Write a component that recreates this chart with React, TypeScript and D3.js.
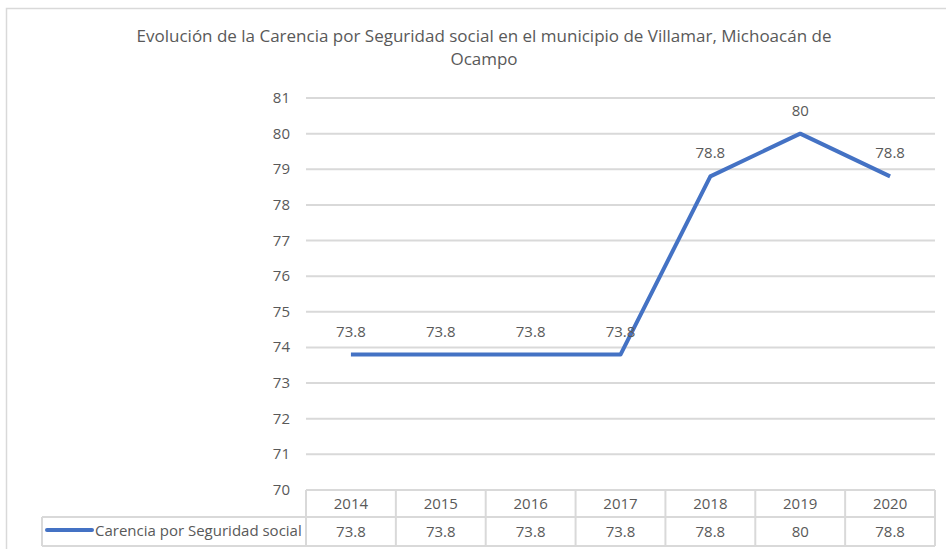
import React from "react";
import * as d3 from "d3";

const title1 = "Evolución de la Carencia por Seguridad social en el municipio de Villamar, Michoacán de";
const title2 = "Ocampo";
const years = ["2014", "2015", "2016", "2017", "2018", "2019", "2020"];
const values = [73.8, 73.8, 73.8, 73.8, 78.8, 80, 78.8];
const yTicks = [70, 71, 72, 73, 74, 75, 76, 77, 78, 79, 80, 81];
const seriesName = "Carencia por Seguridad social";

const FONT = "'Open Sans', sans-serif";
const TXT = "#595959";
const GRID = "#d9d9d9";
const BLUE = "#4472C4";

export default function App() {
  const W = 946, H = 549;
  const x0 = 306, x1 = 935;
  const x = d3.scaleBand<string>().domain(years).range([x0, x1]);
  const y = d3.scaleLinear().domain([70, 81]).range([490, 98]);
  const line = d3
    .line<number>()
    .x((_, i) => (x(years[i]) as number) + x.bandwidth() / 2)
    .y((d) => y(d));
  const row1 = 490, row2 = 517, row3 = 546, legX = 42;
  return (
    <svg width={W} height={H} style={{ position: "absolute", left: 0, top: 0 }} fontFamily={FONT}>
      <rect x={0} y={0} width={W} height={H} fill="#fff" />
      <path d={`M6.5,${H} V8.5 H${W}`} fill="none" stroke={GRID} strokeWidth={1.5} />
      <text x={484} y={42} textAnchor="middle" fontSize={17} fill={TXT}>{title1}</text>
      <text x={484} y={65} textAnchor="middle" fontSize={17} fill={TXT}>{title2}</text>
      {yTicks.map((t) => (
        <g key={t}>
          {t !== 70 && <line x1={x0} x2={x1} y1={y(t)} y2={y(t)} stroke={GRID} strokeWidth={2} />}
          <text x={290} y={y(t) + 5} textAnchor="end" fontSize={15} fill={TXT}>{t}</text>
        </g>
      ))}
      {/* table */}
      <g stroke={GRID} strokeWidth={2} fill="none">
        <line x1={x0} x2={x1} y1={row1} y2={row1} />
        <line x1={legX} x2={x1} y1={row2} y2={row2} />
        <line x1={legX} x2={x1} y1={row3} y2={row3} />
        <line x1={legX} x2={legX} y1={row2} y2={row3} />
        {years.map((yr) => (
          <line key={yr} x1={x(yr)} x2={x(yr)} y1={row1} y2={row3} />
        ))}
        <line x1={x1} x2={x1} y1={row1} y2={row3} />
      </g>
      {years.map((yr, i) => (
        <g key={yr}>
          <text x={(x(yr) as number) + x.bandwidth() / 2} y={509} textAnchor="middle" fontSize={15} fill={TXT}>{yr}</text>
          <text x={(x(yr) as number) + x.bandwidth() / 2} y={537} textAnchor="middle" fontSize={15} fill={TXT}>{values[i]}</text>
        </g>
      ))}
      <line x1={47} x2={92} y1={530} y2={530} stroke={BLUE} strokeWidth={4} strokeLinecap="round" />
      <text x={95} y={536} fontSize={15} fill={TXT}>{seriesName}</text>
      <path d={line(values) || ""} fill="none" stroke={BLUE} strokeWidth={4} strokeLinejoin="round" />
      {values.map((v, i) => (
        <text key={i} x={(x(years[i]) as number) + x.bandwidth() / 2} y={y(v) - 18} textAnchor="middle" fontSize={15} fill={TXT}>{v}</text>
      ))}
    </svg>
  );
}
